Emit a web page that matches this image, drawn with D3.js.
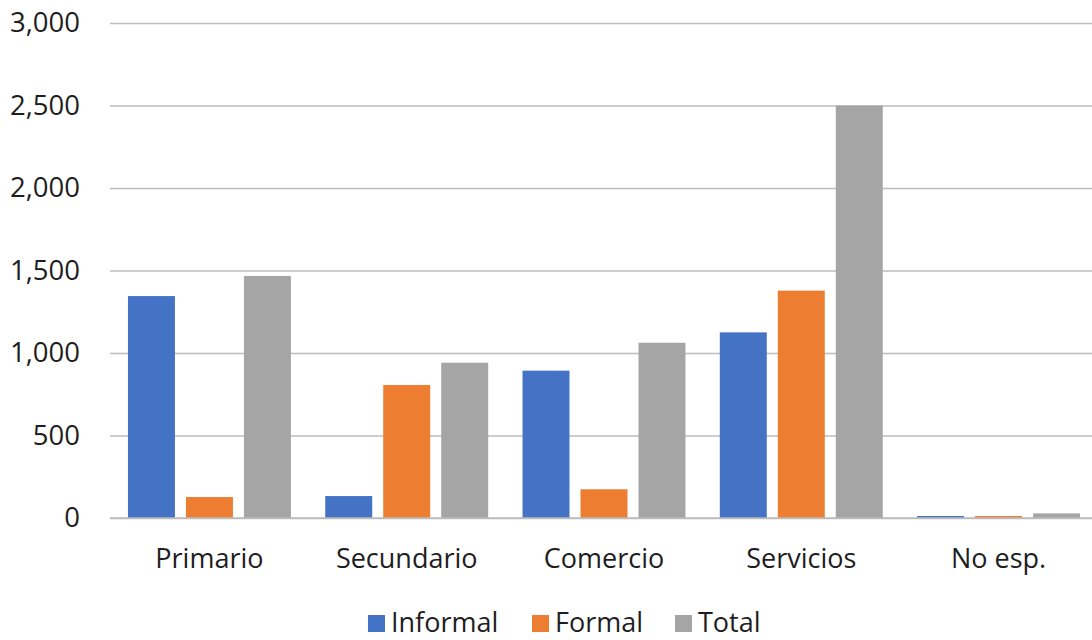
<!DOCTYPE html>
<html><head><meta charset="utf-8">
<script src="https://cdn.jsdelivr.net/npm/d3@7"></script>
<style>body{margin:0;background:#fff}svg{display:block}</style>
</head><body><svg id="c" width="1092" height="640"></svg>
<script>
const categories = ["Primario","Secundario","Comercio","Servicios","No esp."];
const seriesNames = ["Informal","Formal","Total"];
const informal = [1345,133,893,1125,12];
const formal = [127,806,174,1378,12];
const total = [1467,941,1062,2500,28];
const yTicks = [0,500,1000,1500,2000,2500,3000];
const colors = ["#4472C4","#ED7D31","#A5A5A5"];
const seriesVals = [informal, formal, total];

const svg = d3.select("#c");
const font = "'Open Sans', 'Noto Sans', sans-serif";
const left = 110, gridRight = 1092;
const y = d3.scaleLinear().domain([0,3000]).range([518,23]);
const x0 = d3.scaleBand().domain(categories).range([left, 1098]).paddingInner(0.174).paddingOuter(0.091);
const x1 = d3.scaleBand().domain(seriesNames).range([0, x0.bandwidth()]).paddingInner(0.19);

// gridlines + y labels
const yAxis = d3.axisLeft(y).tickValues(yTicks).tickSize(-(gridRight-left)).tickFormat(d3.format(","));
const g = svg.append("g").attr("transform",`translate(${left},0)`).call(yAxis);
g.select(".domain").remove();
g.selectAll(".tick line").attr("stroke","#bdbdbd").attr("stroke-width",1.3);
g.selectAll(".tick text").attr("x",-30).attr("fill","#1e1e1e").style("font-family",font).style("font-size","27.5px");

// bars
const groups = svg.append("g").selectAll("g").data(categories).join("g")
  .attr("transform",c=>`translate(${x0(c)},0)`);
groups.selectAll("rect").data((c,i)=>seriesNames.map((s,j)=>({s, v:seriesVals[j][i], j})))
  .join("rect")
  .attr("x",d=>x1(d.s)).attr("width",x1.bandwidth())
  .attr("y",d=>y(d.v)).attr("height",d=>y(0)-y(d.v))
  .attr("fill",d=>colors[d.j]);

// x axis
const xAxis = d3.axisBottom(x0).tickSize(0);
const gx = svg.append("g").attr("transform","translate(0,518)").call(xAxis);
gx.select(".domain").attr("stroke","#bdbdbd").attr("stroke-width",1.3).attr("d",`M${left},0H${gridRight}`);
gx.selectAll(".tick text").attr("y",50).attr("dy",0).attr("fill","#1e1e1e").style("font-family",font).style("font-size","27px");

// legend
const legX = [368, 532, 675];
const leg = svg.append("g").selectAll("g").data(seriesNames).join("g")
  .attr("transform",(d,i)=>`translate(${legX[i]},615)`);
leg.append("rect").attr("width",17).attr("height",17).attr("fill",(d,i)=>colors[i]);
leg.append("text").attr("x",23).attr("y",17).text(d=>d)
  .attr("fill","#1e1e1e").style("font-family",font).style("font-size","27px");
</script></body></html>
